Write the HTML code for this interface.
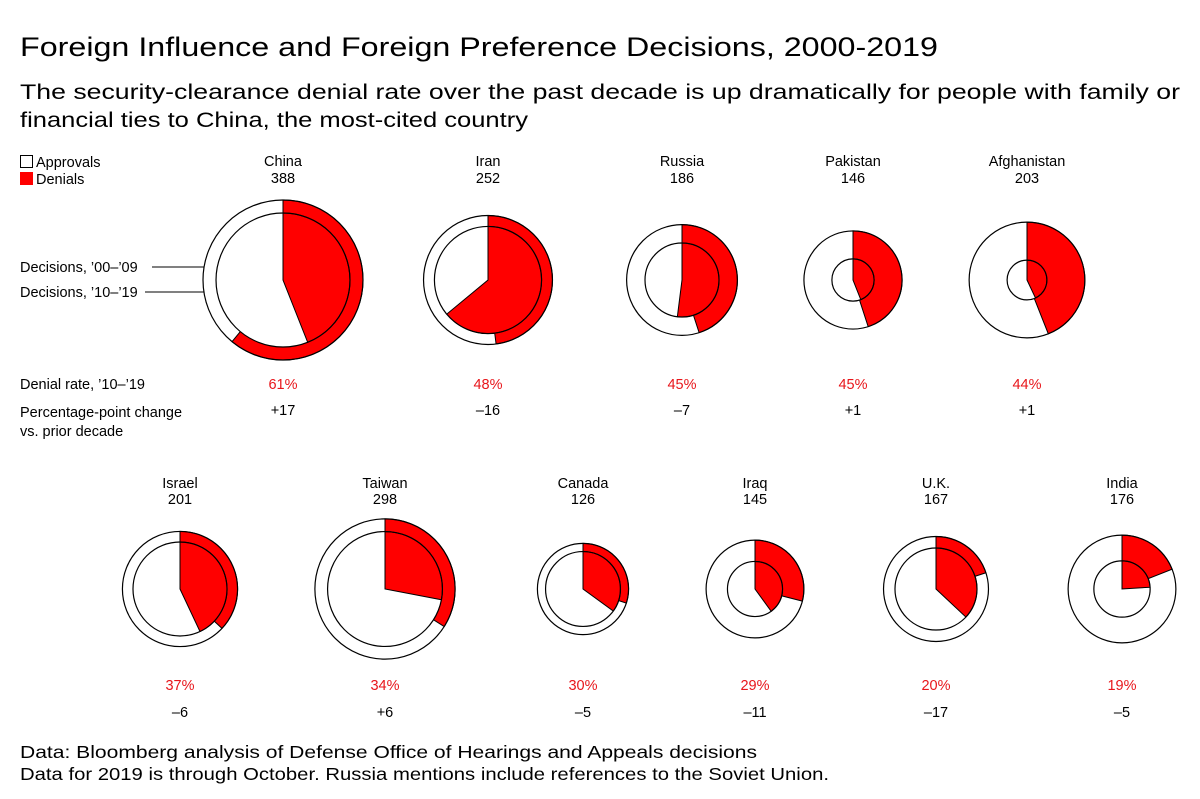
<!DOCTYPE html>
<html><head><meta charset="utf-8"><style>
body{margin:0;background:#fff}
svg{display:block;font-family:"Liberation Sans",Arial,sans-serif}
</style></head><body>
<svg id="chart" width="1200" height="799" viewBox="0 0 1200 799">
<rect width="1200" height="799" fill="#fff"/>
<text x="20" y="56" font-size="27" textLength="918" lengthAdjust="spacingAndGlyphs" fill="#000">Foreign Influence and Foreign Preference Decisions, 2000-2019</text>
<text x="20" y="99" font-size="21.5" textLength="1160" lengthAdjust="spacingAndGlyphs" fill="#000">The security-clearance denial rate over the past decade is up dramatically for people with family or</text>
<text x="20" y="127" font-size="21.5" textLength="508" lengthAdjust="spacingAndGlyphs" fill="#000">financial ties to China, the most-cited country</text>
<rect x="20.5" y="155.5" width="12" height="12" fill="#fff" stroke="#000"/>
<text x="36" y="167" font-size="14.5">Approvals</text>
<rect x="20" y="172" width="13" height="13" fill="#f00"/>
<text x="36" y="184" font-size="14.5">Denials</text>
<text x="20" y="272" font-size="14.5">Decisions, ’00–’09</text>
<line x1="152" y1="267" x2="217" y2="267" stroke="#000"/>
<text x="20" y="297" font-size="14.5">Decisions, ’10–’19</text>
<line x1="145" y1="292" x2="204" y2="292" stroke="#000"/>
<text x="20" y="389" font-size="14.5">Denial rate, ’10–’19</text>
<text x="20" y="417" font-size="14.5">Percentage-point change</text>
<text x="20" y="436" font-size="14.5">vs. prior decade</text>
<text x="20" y="758" font-size="17.5" textLength="737" lengthAdjust="spacingAndGlyphs">Data: Bloomberg analysis of Defense Office of Hearings and Appeals decisions</text>
<text x="20" y="780" font-size="17.5" textLength="809" lengthAdjust="spacingAndGlyphs">Data for 2019 is through October. Russia mentions include references to the Soviet Union.</text>
<g id="pies"></g>
</svg>
<script>
const countries = ["China","Iran","Russia","Pakistan","Afghanistan","Israel","Taiwan","Canada","Iraq","U.K.","India"];
const decisions1019 = [388,252,186,146,203,201,298,126,145,167,176];
const denialRate1019 = [61,48,45,45,44,37,34,30,29,20,19];
const pointChange = [17,-16,-7,1,1,-6,6,-5,-11,-17,-5];
const decisions0009 = [272,174,83,27,24,134,200,85,46,102,48];

const cx = [283,488,682,853,1027,180,385,583,755,936,1122];
const rowOf = [0,0,0,0,0,1,1,1,1,1,1];
const rowCy = [280,589], rowName=[166,488], rowCount=[183,504], rowRate=[389,690], rowChg=[415,717];
const k = 80/Math.sqrt(388);
const rScale = n => k*Math.sqrt(n);
const NS = "http://www.w3.org/2000/svg";
const g = document.getElementById('pies');

function mk(tag, attrs, parent){
  const e = document.createElementNS(NS, tag);
  for (const a in attrs) e.setAttribute(a, attrs[a]);
  parent.appendChild(e); return e;
}
function wedge(x,y,r,frac){
  const a = frac*2*Math.PI;
  const ex = x + r*Math.sin(a), ey = y - r*Math.cos(a);
  const large = frac>0.5?1:0;
  return `M${x},${y} L${x},${y-r} A${r},${r} 0 ${large} 1 ${ex},${ey} Z`;
}
function pie(grp, x, y, r, frac, nm){
  const c = mk('circle',{cx:x,cy:y,r:r,fill:'#fff',stroke:'none'},grp);
  
  
  const p = mk('path',{d:wedge(x,y,r,frac),fill:'#f00',stroke:'#000','stroke-width':1},grp);
  
  
  const o = mk('circle',{cx:x,cy:y,r:r,fill:'none',stroke:'#000','stroke-width':1.2},grp);
  
  
}
countries.forEach((name,i)=>{
  const slug = name.toLowerCase().replace(/[^a-z]/g,'');
  const grp = mk('g',{},g);
  
  
  const row = rowOf[i], x = cx[i], y = rowCy[row];
  const rate0009 = denialRate1019[i]-pointChange[i];
  pie(grp, x, y, rScale(decisions1019[i]), denialRate1019[i]/100, slug+'-outer-10-19');
  pie(grp, x, y, rScale(decisions0009[i]), rate0009/100, slug+'-inner-00-09');
  const t1 = mk('text',{x:x,y:rowName[row],'text-anchor':'middle','font-size':14.5},grp);
  t1.textContent = name;
  
  
  const t2 = mk('text',{x:x,y:rowCount[row],'text-anchor':'middle','font-size':14.5},grp);
  t2.textContent = decisions1019[i];
  
  
  const t3 = mk('text',{x:x,y:rowRate[row],'text-anchor':'middle','font-size':14.5,fill:'#e8161b'},grp);
  t3.textContent = denialRate1019[i]+'%';
  
  
  const t4 = mk('text',{x:x,y:rowChg[row],'text-anchor':'middle','font-size':14.5},grp);
  t4.textContent = (pointChange[i]>0?'+':'–')+Math.abs(pointChange[i]);
  
  
});
</script>
</body></html>
